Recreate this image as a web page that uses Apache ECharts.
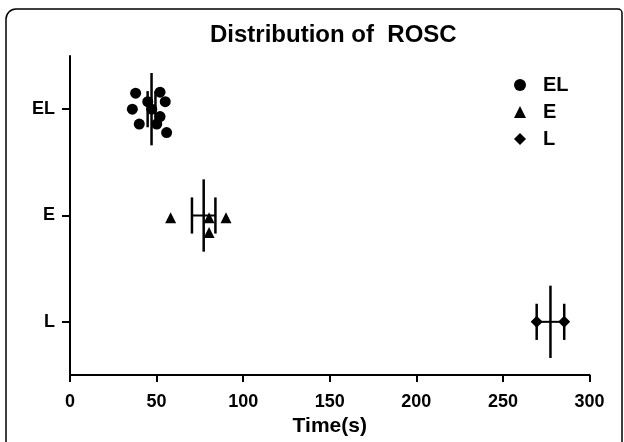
<!DOCTYPE html>
<html>
<head>
<meta charset="utf-8">
<script src="https://cdn.jsdelivr.net/npm/echarts@6/dist/echarts.min.js"></script>
<style>
  html, body { margin: 0; padding: 0; background: #fff; }
  #main { width: 624px; height: 442px; }
</style>
</head>
<body>
<div id="main"></div>
<script>
// group positions on the y axis
var groupNames = ['L', 'E', 'EL'];
var groupPos = [1, 2, 3];

// time (s) and jittered y for each point
var elTime = [37.9, 52.0, 44.9, 55.0, 36.0, 47.2, 52.0, 40.0, 50.1, 55.8];
var elY    = [3.15, 3.16, 3.07, 3.07, 3.00, 3.00, 2.93, 2.86, 2.86, 2.78];
var eTime  = [58.1, 90.1, 80.3, 80.3];
var eY     = [1.98, 1.98, 1.98, 1.84];
var lTime  = [269.5, 285.4];
var lY     = [1.00, 1.00];

var xTicks = [0, 50, 100, 150, 200, 250, 300];

function pairs(xs, ys) {
    var out = [];
    for (var i = 0; i < xs.length; i++) { out.push([xs[i], ys[i]]); }
    return out;
}

// mean and SEM of a group
function meanSem(xs) {
    var n = xs.length, s = 0, i;
    for (i = 0; i < n; i++) { s += xs[i]; }
    var m = s / n, v = 0;
    for (i = 0; i < n; i++) { v += (xs[i] - m) * (xs[i] - m); }
    var sd = Math.sqrt(v / (n - 1));
    return [m, sd / Math.sqrt(n)];
}

var barData = [];
[[elTime, 3], [eTime, 2], [lTime, 1]].forEach(function (g) {
    var ms = meanSem(g[0]);
    barData.push([ms[0], ms[1], g[1]]);
});

var FONT = 'Liberation Sans, Arial, sans-serif';

var myChart = echarts.init(document.getElementById('main'));

var option = {
    backgroundColor: '#fff',
    animation: false,
    title: {
        text: 'Distribution of  ROSC',
        left: 205, top: 18,
        textStyle: { fontFamily: FONT, fontSize: 24, fontWeight: 'bold', color: '#000' }
    },
    graphic: [{
        type: 'rect',
        shape: { x: 6, y: 9, width: 616, height: 460, r: [10, 4, 0, 0] },
        style: { fill: 'none', stroke: '#000', lineWidth: 1.5 },
        silent: true
    }],
    legend: {
        orient: 'vertical',
        left: 514, top: 75,
        padding: 0,
        itemWidth: 12, itemHeight: 12, itemGap: 7,
        itemStyle: { opacity: 1 },
        textStyle: { fontFamily: FONT, fontSize: 20, fontWeight: 'bold', color: '#000',
                     padding: [0, 0, 0, 12] },
        data: [
            { name: 'EL', icon: 'circle' },
            { name: 'E', icon: 'triangle' },
            { name: 'L', icon: 'diamond' }
        ]
    },
    grid: { left: 70, right: 34.5, top: 56, bottom: 64 },
    xAxis: {
        type: 'value', min: 0, max: 300, interval: 50,
        name: 'Time(s)', nameLocation: 'middle', nameGap: 41,
        nameTextStyle: { fontFamily: FONT, fontSize: 21, fontWeight: 'bold', color: '#000' },
        axisLine: { show: true, lineStyle: { color: '#000', width: 2 } },
        axisTick: { show: true, length: 7, lineStyle: { color: '#000', width: 2 } },
        axisLabel: {
            margin: 18, fontFamily: FONT, fontSize: 18, fontWeight: 'bold', color: '#000',
            customValues: xTicks
        },
        splitLine: { show: false }
    },
    yAxis: {
        type: 'value', min: 0.5, max: 3.5,
        axisLine: { show: true, lineStyle: { color: '#000', width: 2 } },
        axisTick: { show: true, length: 8, customValues: groupPos, lineStyle: { color: '#000', width: 2 } },
        axisLabel: {
            margin: 15, fontFamily: FONT, fontSize: 18, fontWeight: 'bold', color: '#000',
            customValues: groupPos,
            formatter: function (v) { return groupNames[groupPos.indexOf(Math.round(v))] || ''; }
        },
        splitLine: { show: false }
    },
    series: [
        { name: 'EL', type: 'scatter', symbol: 'circle', symbolSize: 11,
          itemStyle: { color: '#000', opacity: 1 }, data: pairs(elTime, elY), z: 3 },
        { name: 'E', type: 'scatter', symbol: 'triangle', symbolSize: 11,
          itemStyle: { color: '#000', opacity: 1 }, data: pairs(eTime, eY), z: 3 },
        { name: 'L', type: 'scatter', symbol: 'diamond', symbolSize: 12,
          itemStyle: { color: '#000', opacity: 1 }, data: pairs(lTime, lY), z: 3 },
        {
            name: 'meanSem', type: 'custom', z: 4, silent: true,
            data: barData,
            renderItem: function (params, api) {
                var m = api.value(0), s = api.value(1), y = api.value(2);
                var top = api.coord([m, y + 0.34]), bot = api.coord([m, y - 0.34]);
                var lo = api.coord([m - s, y]), hi = api.coord([m + s, y]);
                var loT = api.coord([m - s, y + 0.17]), loB = api.coord([m - s, y - 0.17]);
                var hiT = api.coord([m + s, y + 0.17]), hiB = api.coord([m + s, y - 0.17]);
                var st = { stroke: '#000', lineWidth: 2.5 };
                return {
                    type: 'group',
                    children: [
                        { type: 'line', shape: { x1: top[0], y1: top[1], x2: bot[0], y2: bot[1] }, style: st },
                        { type: 'line', shape: { x1: lo[0], y1: lo[1], x2: hi[0], y2: hi[1] }, style: { stroke: '#000', lineWidth: 2 } },
                        { type: 'line', shape: { x1: loT[0], y1: loT[1], x2: loB[0], y2: loB[1] }, style: st },
                        { type: 'line', shape: { x1: hiT[0], y1: hiT[1], x2: hiB[0], y2: hiB[1] }, style: st }
                    ]
                };
            }
        }
    ]
};

myChart.setOption(option);
window.addEventListener('resize', function () { myChart.resize(); });
</script>
</body>
</html>
